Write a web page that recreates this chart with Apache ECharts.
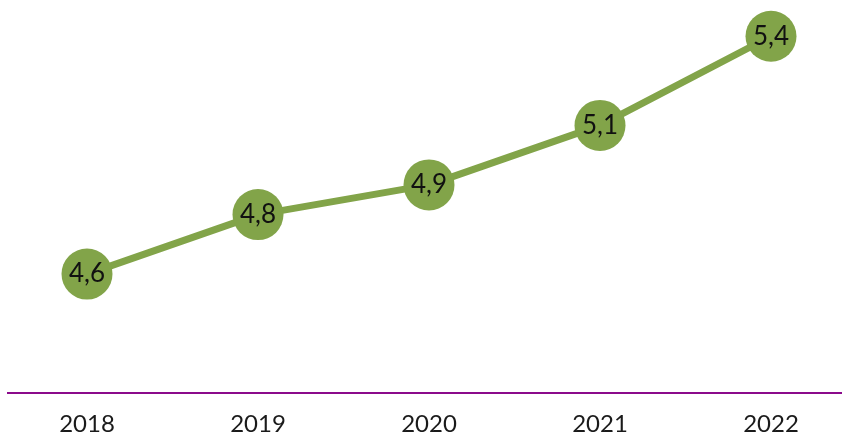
<!DOCTYPE html>
<html>
<head>
<meta charset="utf-8">
<script src="https://cdn.jsdelivr.net/npm/echarts@6/dist/echarts.min.js"></script>
<style>
  html, body { margin: 0; padding: 0; background: #ffffff; }
  #chart { width: 842px; height: 436px; }
</style>
</head>
<body>
<div id="chart"></div>
<script>
// Years along the bottom and the yearly values
const years = ['2018', '2019', '2020', '2021', '2022'];
const values = [4.6, 4.8, 4.9, 5.1, 5.4];

const GREEN = '#82a449';
const PURPLE = '#8b0a8b';
const FONT = 'Lato, "Noto Sans", sans-serif';

const chart = echarts.init(document.getElementById('chart'), null, { renderer: 'canvas' });

chart.setOption({
  animation: false,
  backgroundColor: '#ffffff',
  // first and last years sit on the grid edges
  grid: { left: 87, width: 684, top: 6.5, height: 388.7, containLabel: false },
  xAxis: {
    type: 'category',
    data: years,
    boundaryGap: false,
    axisLine: { show: false },
    axisTick: { show: false },
    axisLabel: { color: '#1a1a1a', fontSize: 24, fontFamily: FONT, margin: 19 }
  },
  yAxis: {
    type: 'value',
    min: 4.2,
    max: 5.5,
    show: false,
    splitLine: { show: false }
  },
  graphic: [{
    type: 'line',
    shape: { x1: 7, y1: 393, x2: 842, y2: 393 },
    style: { stroke: PURPLE, lineWidth: 2 },
    z: 1
  }],
  series: [{
    type: 'line',
    data: values,
    symbol: 'circle',
    symbolSize: 51,
    lineStyle: { color: GREEN, width: 7 },
    itemStyle: { color: GREEN },
    label: {
      show: true,
      position: 'inside',
      color: '#111111',
      fontSize: 26,
      fontFamily: FONT,
      formatter: p => String(p.value).replace('.', ',')
    },
    z: 3
  }]
});
</script>
</body>
</html>
